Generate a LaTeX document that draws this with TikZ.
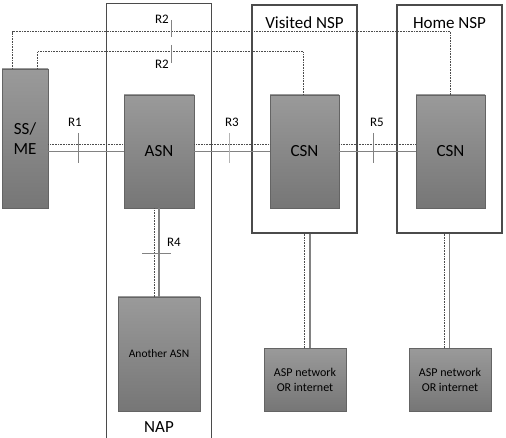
\documentclass[tikz,border=0pt]{standalone}
\usepackage{fontspec}
\setmainfont{Carlito}
\usetikzlibrary{calc}
\definecolor{boxtop}{RGB}{154,154,154}
\definecolor{boxbot}{RGB}{118,118,118}
\definecolor{boxedge}{RGB}{100,100,100}
\definecolor{frameline}{RGB}{75,75,75}
\definecolor{linkgray}{RGB}{130,130,130}

\begin{document}
\begin{tikzpicture}[x=1pt,y=-1pt,
  entity/.style={draw=boxedge,line width=0.8pt,top color=boxtop,bottom color=boxbot,
    inner sep=0pt,align=center,font=\fontsize{17}{19.5}\selectfont},
  netzone/.style={draw=frameline,line width=1.2pt,inner sep=0pt},
  link/.style={draw=linkgray,line width=1.1pt},
  ctrl/.style={draw=black!70,densely dotted,line width=0.6pt},
  tick/.style={draw=linkgray,line width=0.7pt},
  reflabel/.style={font=\fontsize{13}{13}\selectfont}]

\useasboundingbox (0,0) rectangle (506,438);

%domains:
\node[inner sep=0pt,minimum width=104pt,minimum height=436pt] (nap) at (159,222) {};
\draw[netzone] (nap.south west) -- (nap.north west) -- (nap.north east) -- (nap.south east);
\node[netzone,minimum width=105pt,minimum height=228pt] (vnsp) at (304.5,119) {};
\node[netzone,minimum width=105pt,minimum height=228pt] (hnsp) at (449.5,119) {};
\node[font=\fontsize{17}{17}\selectfont] (vnsptitle) at (304.5,23) {Visited NSP};
\node[font=\fontsize{17}{17}\selectfont] (hnsptitle) at (449.5,23) {Home NSP};
\node[font=\fontsize{17}{17}\selectfont] (naptitle) at (159,427) {NAP};

%network entities:
\node[entity,minimum width=46pt,minimum height=139pt] (ssme) at (25,138.5) {SS/\\ME};
\node[entity,minimum width=70pt,minimum height=113pt] (asn) at (159,151.5) {ASN};
\node[entity,minimum width=69pt,minimum height=113pt] (csnv) at (304.5,151.5) {CSN};
\node[entity,minimum width=69pt,minimum height=113pt] (csnh) at (450.5,151.5) {CSN};
\node[entity,minimum width=82pt,minimum height=114pt,font=\fontsize{11.5}{14}\selectfont] (asn2) at (159,354) {Another ASN};
\node[entity,minimum width=82pt,minimum height=63pt,font=\fontsize{12}{15}\selectfont] (aspv) at (305,379.5) {ASP network\\OR internet};
\node[entity,minimum width=82pt,minimum height=63pt,font=\fontsize{12}{15}\selectfont] (asph) at (450,379.5) {ASP network\\OR internet};

%data paths (solid) and control paths (dotted):
\draw[link] (ssme.east |- asn.west) -- (asn.west);
\draw[ctrl] ($(ssme.east |- asn.west)+(0,-7)$) -- ($(asn.west)+(0,-7)$);
\draw[link] (asn.east) -- (csnv.west);
\draw[ctrl] ($(asn.east)+(0,-7)$) -- ($(csnv.west)+(0,-7)$);
\draw[link] (csnv.east) -- (csnh.west);
\draw[ctrl] ($(csnv.east)+(0,-7)$) -- ($(csnh.west)+(0,-7)$);
\draw[link] (asn.south) -- (asn2.north);
\draw[ctrl] ($(asn.south)+(-5,0)$) -- ($(asn2.north)+(-5,0)$);
\draw[link] ($(vnsp.south)+(5.5,0)$) -- ($(aspv.north)+(5,0)$);
\draw[ctrl] (vnsp.south) -- (vnsp.south |- aspv.north);
\draw[link] (hnsp.south) -- (hnsp.south |- asph.north);
\draw[ctrl] ($(hnsp.south)+(-5,0)$) -- ($(hnsp.south |- asph.north)+(-5,0)$);

%R2 paths
\draw[ctrl] ($(ssme.north west)+(11,0)$) -- ++(0,-37) -| (csnh.north);
\draw[ctrl] ($(ssme.north west)+(36,0)$) -- ++(0,-17) -| ($(csnv.north)+(-1.5,0)$);

%reference points:
\draw[tick] (171,20) -- (171,37);
\draw[tick] (171,45) -- (171,63);
\node[reflabel] (r2a) at (162,19) {R2};
\node[reflabel] (r2b) at (162,64) {R2};
\draw[tick] (78,133) -- (78,163);
\node[reflabel] (r1) at (75,122) {R1};
\draw[tick,draw=linkgray!60] (229,133) -- (229,163);
\node[reflabel] (r3) at (232,122) {R3};
\draw[tick] (373,133) -- (373,163);
\node[reflabel] (r5) at (377,122) {R5};
\draw[tick] (142,253) -- (171,253);
\node[reflabel] (r4) at (174,242) {R4};

\end{tikzpicture}
\end{document}
